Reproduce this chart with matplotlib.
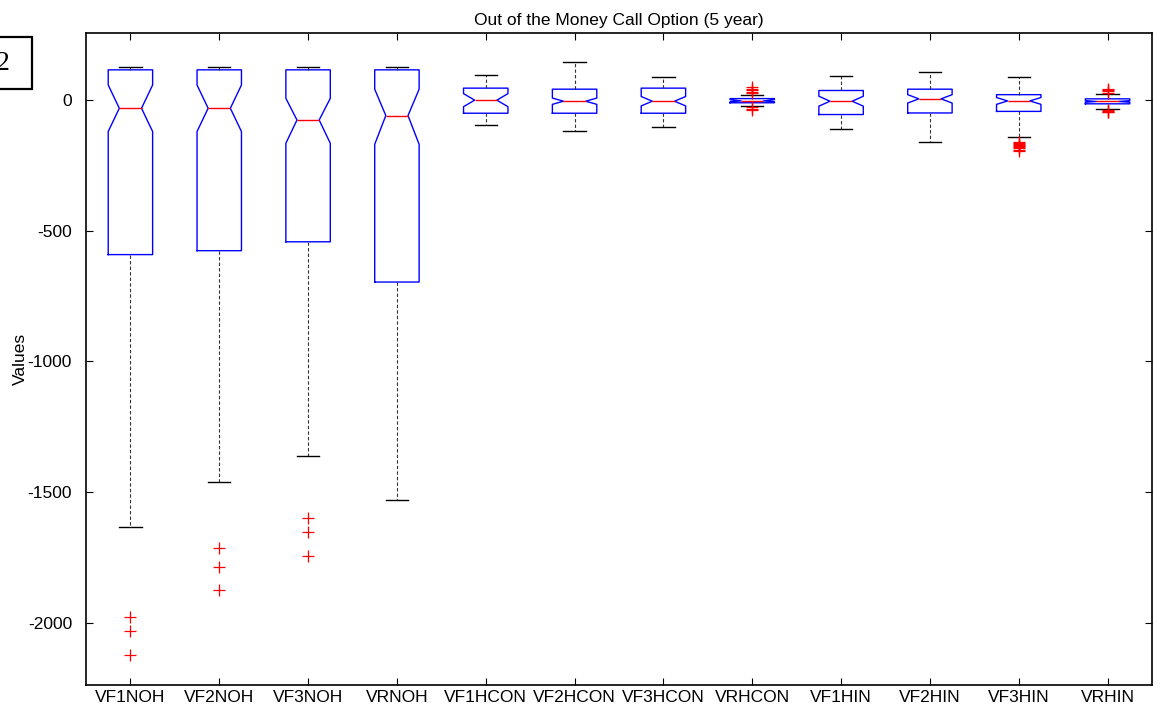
import matplotlib
matplotlib.use("Agg")
import matplotlib.pyplot as plt
from matplotlib.patches import Rectangle

# data (notched boxplot summary stats)
labels = ["VF1NOH", "VF2NOH", "VF3NOH", "VRNOH", "VF1HCON", "VF2HCON",
          "VF3HCON", "VRHCON", "VF1HIN", "VF2HIN", "VF3HIN", "VRHIN"]
medians = [-32, -32, -77, -60, -1, -5, -5, -4, -5, 4, -4, -6]
q1 = [-592, -577, -543, -697, -51, -51, -51, -11, -56, -50, -44, -15]
q3 = [115, 115, 115, 115, 45, 41, 45, 5, 36, 41, 20, 4]
whis_lo = [-1636, -1463, -1362, -1531, -97, -119, -102, -23, -111, -161, -143, -36]
whis_hi = [127, 127, 127, 127, 96, 144, 89, 19, 90, 108, 87, 22]
ci_lo = [-121, -121, -166, -170, -26, -17, -23, -7, -24, -12, -17, -9]
ci_hi = [57, 57, 6, 41, 24, 7, 13, 1, 14, 20, 9, -3]
outliers = [
    [-1980, -2031, -2126],
    [-1716, -1786, -1875],
    [-1601, -1652, -1744],
    [],
    [],
    [],
    [],
    [26, 31, 36, 42, 49, -29, -34, -40],
    [],
    [],
    [-160, -164, -168, -172, -176, -180, -185, -190, -197],
    [28, 33, 38, 41, -39, -42, -45, -48],
]

plt.rcParams["font.family"] = ["Liberation Sans", "DejaVu Sans"]

fig = plt.figure(figsize=(11.7, 7.23), dpi=100)
ax = fig.add_axes([86 / 1170, 1 - 685 / 723, (1152 - 86) / 1170, (685 - 33) / 723])

stats = []
for i in range(len(labels)):
    stats.append({
        "label": labels[i],
        "med": medians[i],
        "q1": q1[i],
        "q3": q3[i],
        "whislo": whis_lo[i],
        "whishi": whis_hi[i],
        "cilo": ci_lo[i],
        "cihi": ci_hi[i],
        "fliers": outliers[i],
    })

ax.bxp(
    stats,
    positions=range(1, len(labels) + 1),
    widths=0.5,
    shownotches=True,
    boxprops=dict(color="blue", linewidth=1.0),
    medianprops=dict(color="red", linewidth=1.0),
    whiskerprops=dict(color="#333333", linewidth=0.8, linestyle=(0, (3, 2))),
    capprops=dict(color="black", linewidth=1.0),
    flierprops=dict(marker="+", markeredgecolor="red", markersize=8,
                    markeredgewidth=0.9, linestyle="none"),
)

ax.set_xlim(0.5, 12.5)
ax.set_ylim(-2239, 256)
ax.set_yticks([0, -500, -1000, -1500, -2000])
ax.set_yticklabels(["0", "-500", "-1000", "-1500", "-2000"])
ax.set_xticks(range(1, len(labels) + 1))
ax.set_xticklabels(labels)
ax.tick_params(direction="in", top=True, right=True, length=5,
               labelsize=12.5, width=0.8)
ax.tick_params(axis="y", pad=10)
for s in ax.spines.values():
    s.set_linewidth(1.2)

ax.set_title("Out of the Money Call Option (5 year)", fontsize=12.5, pad=6)
ax.set_ylabel("Values", fontsize=12.5, labelpad=0)

# the boxed figure number in the top-left corner
fig.patches.append(Rectangle((-12 / 1170, 1 - 89.3 / 723), 43.7 / 1170, 52 / 723,
                             transform=fig.transFigure, fill=False,
                             edgecolor="black", linewidth=1.6, clip_on=False))
fig.text(10 / 1170, 1 - 63 / 723, "2", ha="right", va="center", fontsize=20,
         family="Liberation Serif")

fig.savefig("out.png", dpi=100)
